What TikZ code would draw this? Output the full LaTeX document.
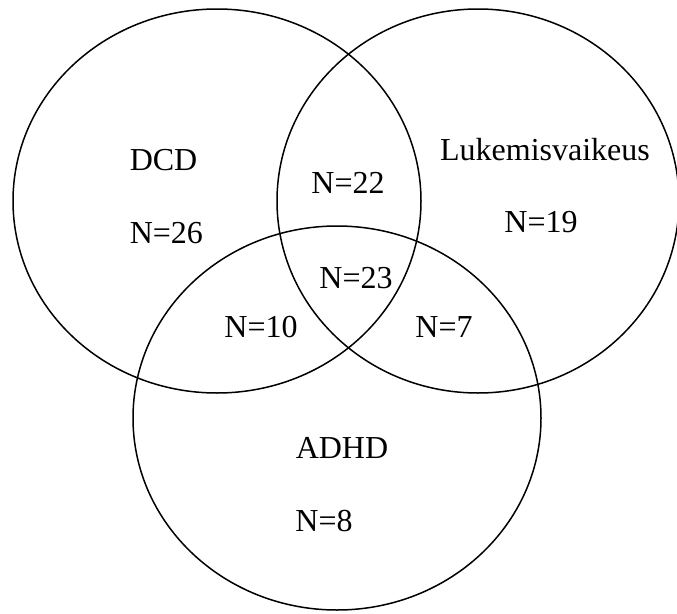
\documentclass[tikz,border=0pt]{standalone}
\usepackage{fontspec}
\setmainfont{Liberation Serif}
\begin{document}
\begin{tikzpicture}[x=1pt,y=-1pt,line width=1.5pt,
  lbl/.style={font=\fontsize{32}{38}\selectfont,inner sep=0pt}]
\useasboundingbox (0,0) rectangle (677,613);
\draw (217,201) ellipse [x radius=204,y radius=192];
\draw (478,201) ellipse [x radius=201,y radius=192];
\draw (337,418) ellipse [x radius=204,y radius=192];
\node[lbl,anchor=west] (dcd) at (129,160) {DCD};
\node[lbl,anchor=west] (dcdn) at (129,233) {N=26};
\node[lbl] (luk) at (545,150) {Lukemisvaikeus};
\node[lbl] (lukn) at (541,222) {N=19};
\node[lbl] (adhd) at (342,448) {ADHD};
\node[lbl] (adhdn) at (324,521) {N=8};
\node[lbl] (dl) at (348,183) {N=22};
\node[lbl] (all) at (356,278) {N=23};
\node[lbl] (da) at (261,327) {N=10};
\node[lbl] (la) at (444,327) {N=7};
\end{tikzpicture}
\end{document}
